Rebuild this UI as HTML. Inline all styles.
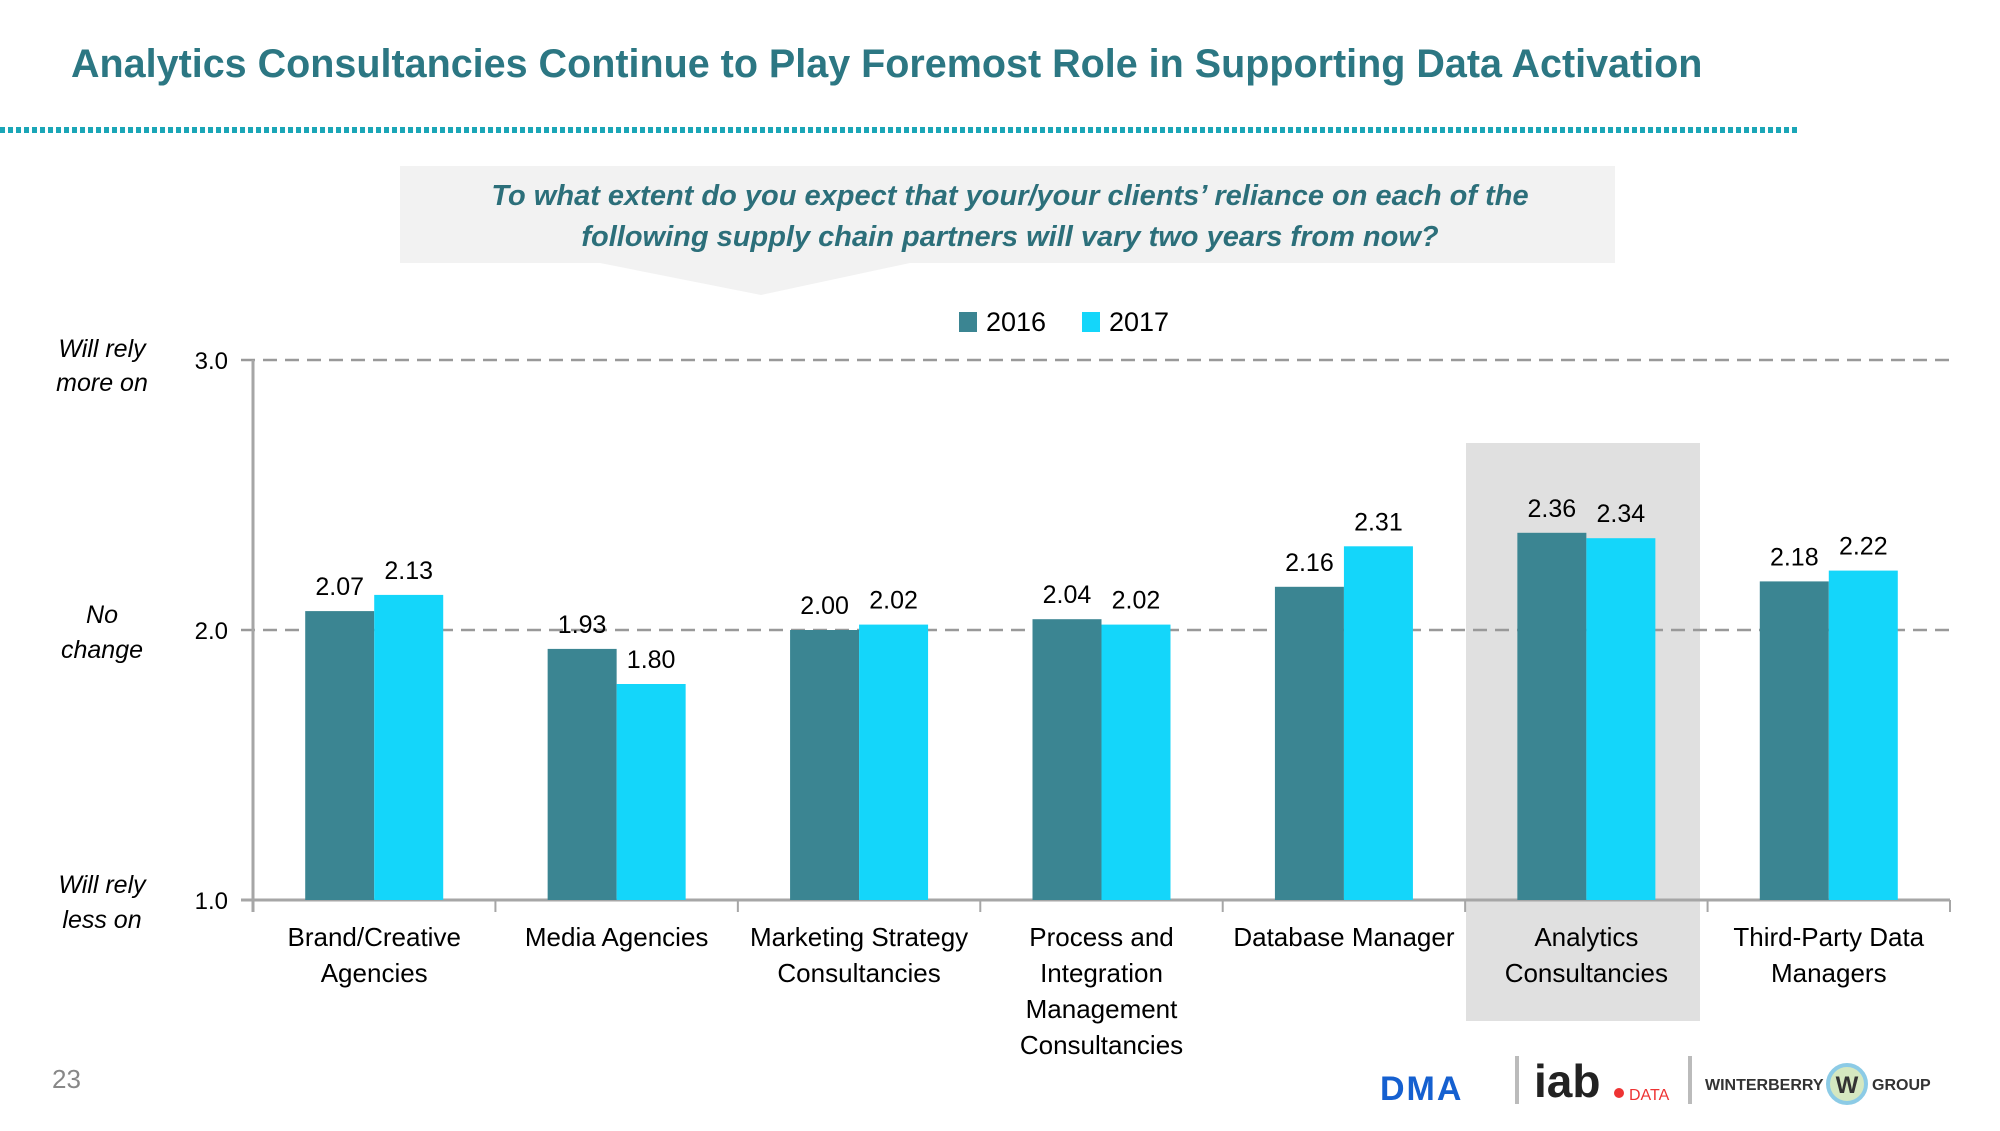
<!DOCTYPE html>
<html><head><meta charset="utf-8">
<style>
body{margin:0;width:2000px;height:1126px;background:#fff;overflow:hidden;font-family:"Liberation Sans",sans-serif;}
</style></head>
<body>
<svg width="2000" height="1126" viewBox="0 0 2000 1126" style="font-family:'Liberation Sans',sans-serif">
  <text x="71" y="77" font-size="39.5" font-weight="bold" fill="#2c7783">Analytics Consultancies Continue to Play Foremost Role in Supporting Data Activation</text>
  <line x1="0" y1="130" x2="1798" y2="130" stroke="#1aa6b7" stroke-width="6" stroke-dasharray="5,3"/>
  <g>
    <rect x="400" y="166" width="1215" height="97" fill="#f2f2f2"/>
    <polygon points="600,263 910,263 761,295" fill="#f2f2f2"/>
    <text x="1010" y="205" font-size="29" font-style="italic" font-weight="bold" fill="#2c6f7a" text-anchor="middle">To what extent do you expect that your/your clients’ reliance on each of the</text>
    <text x="1010" y="246" font-size="29" font-style="italic" font-weight="bold" fill="#2c6f7a" text-anchor="middle">following supply chain partners will vary two years from now?</text>
  </g>
  <g>
    <rect x="959" y="312" width="18" height="20" fill="#3b8592"/>
    <text x="986" y="331" font-size="27" fill="#000">2016</text>
    <rect x="1082" y="312" width="18" height="20" fill="#14d6fa"/>
    <text x="1109" y="331" font-size="27" fill="#000">2017</text>
  </g>
  <g font-size="25" font-style="italic" fill="#000" text-anchor="middle">
    <text x="102" y="357">Will rely</text><text x="102" y="391">more on</text>
    <text x="102" y="623">No</text><text x="102" y="658">change</text>
    <text x="102" y="893">Will rely</text><text x="102" y="928">less on</text>
  </g>
  <rect x="1466" y="443" width="234" height="578" fill="#e0e0e0"/>
  <g id="chart"></g>
  <text x="52" y="1088" font-size="26" fill="#888">23</text>
  <g>
    <text x="1380" y="1100" font-size="34" font-weight="bold" fill="#1560d0" letter-spacing="2">DMA</text>
    <rect x="1515" y="1056" width="4" height="48" fill="#bbb"/>
    <text x="1534" y="1097" font-size="46" font-weight="bold" fill="#222">iab</text>
    <circle cx="1619" cy="1093" r="5" fill="#e33"/>
    <text x="1629" y="1100" font-size="16" fill="#e33">DATA</text>
    <rect x="1688" y="1056" width="4" height="48" fill="#bbb"/>
    <text x="1705" y="1090" font-size="16" font-weight="bold" fill="#333">WINTERBERRY</text>
    <circle cx="1847" cy="1084" r="19" fill="#d5e8c0" stroke="#8ccbe6" stroke-width="4"/>
    <text x="1847" y="1093" font-size="24" font-weight="bold" fill="#333" text-anchor="middle">W</text>
    <text x="1872" y="1090" font-size="16" font-weight="bold" fill="#333">GROUP</text>
  </g>
</svg>
<script>
const categories=[["Brand/Creative","Agencies"],["Media Agencies"],["Marketing Strategy","Consultancies"],["Process and","Integration","Management","Consultancies"],["Database Manager"],["Analytics","Consultancies"],["Third-Party Data","Managers"]];
const values2016=[2.07,1.93,2.00,2.04,2.16,2.36,2.18];
const values2017=[2.13,1.80,2.02,2.02,2.31,2.34,2.22];
const yTicks=[1.0,2.0,3.0];
const labels2016=["2.07","1.93","2.00","2.04","2.16","2.36","2.18"];
const labels2017=["2.13","1.80","2.02","2.02","2.31","2.34","2.22"];

const NS="http://www.w3.org/2000/svg";
const g=document.getElementById('chart');
const x0=253,x1=1950,yTop=360,yBot=900,vMin=1,vMax=3;
const step=(x1-x0)/categories.length;
const bw=69;
function y(v){return yBot-(v-vMin)/(vMax-vMin)*(yBot-yTop);}
function mk(tag,attrs){const e=document.createElementNS(NS,tag);for(const k in attrs)e.setAttribute(k,attrs[k]);g.appendChild(e);return e;}
yTicks.forEach(t=>{
  if(t>vMin){const l=mk('line',{x1:x0-12,x2:x1,y1:y(t),y2:y(t),stroke:'#999','stroke-width':2.5,'stroke-dasharray':'14,8'});
  
  }
  const tx=mk('text',{x:228,y:y(t)+9,'font-size':24,'text-anchor':'end',fill:'#000'});
  tx.textContent=t.toFixed(1);
  
  
});
const ya=mk('line',{x1:x0,x2:x0,y1:yTop,y2:yBot+12,stroke:'#a6a6a6','stroke-width':3});


const xa=mk('line',{x1:x0-12,x2:x1,y1:yBot,y2:yBot,stroke:'#a6a6a6','stroke-width':3});


for(let i=1;i<=categories.length;i++){
  const tk=mk('line',{x1:x0+i*step,x2:x0+i*step,y1:yBot,y2:yBot+12,stroke:'#a6a6a6','stroke-width':2});
  
  
}
categories.forEach((c,i)=>{
  const cx=x0+step*(i+0.5);
  const b1=mk('rect',{x:cx-bw,y:y(values2016[i]),width:bw,height:yBot-y(values2016[i]),fill:'#3b8592'});
  
  
  const b2=mk('rect',{x:cx,y:y(values2017[i]),width:bw,height:yBot-y(values2017[i]),fill:'#14d6fa'});
  
  
  const l1=mk('text',{x:cx-bw/2,y:y(values2016[i])-16,'font-size':25,'text-anchor':'middle',fill:'#000'});
  l1.textContent=labels2016[i];
  
  
  const l2=mk('text',{x:cx+bw/2,y:y(values2017[i])-16,'font-size':25,'text-anchor':'middle',fill:'#000'});
  l2.textContent=labels2017[i];
  
  
  c.forEach((ln,j)=>{
    const t=mk('text',{x:cx,y:yBot+46+j*36,'font-size':26,'text-anchor':'middle',fill:'#000'});
    t.textContent=ln;
    
    
  });
});
</script>
</body></html>
